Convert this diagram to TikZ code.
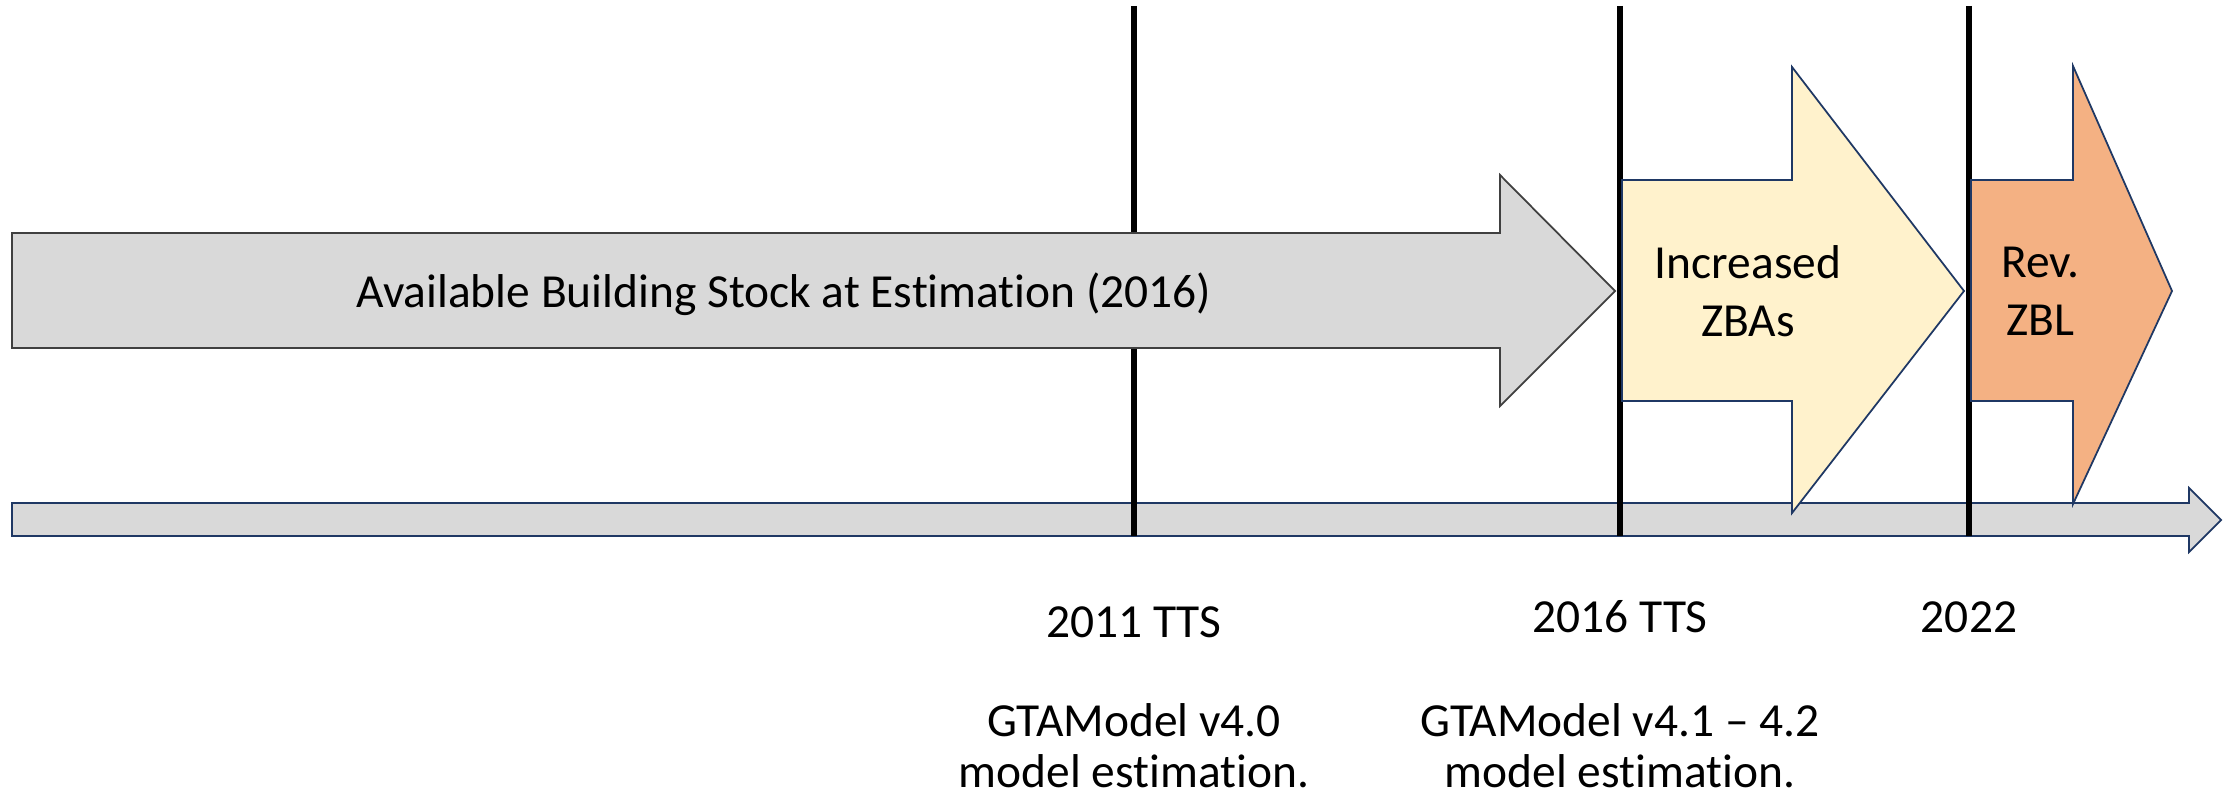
\documentclass[tikz,border=0pt]{standalone}
\usepackage{fontspec}
\setmainfont[Ligatures={TeX,NoCommon}]{Carlito}
\usetikzlibrary{calc}
\definecolor{stockgray}{HTML}{D9D9D9}
\definecolor{edgegray}{HTML}{404040}
\definecolor{navy}{HTML}{1F3864}
\definecolor{zbayellow}{HTML}{FFF2CC}
\definecolor{zblorange}{HTML}{F4B183}
\tikzset{
  blockarrow/.style={draw=navy,line width=0.5pt,line join=miter},
  yearline/.style={line width=1.6pt},
  label/.style={inner sep=0pt,align=center,font=\fontsize{13.5}{16.5}\selectfont},
  notes/.style={label,font=\fontsize{13.5}{14.6}\selectfont}
}

\begin{document}
\begin{tikzpicture}[x=0.1mm,y=-0.1mm]
    \useasboundingbox (0,0) rectangle (2236,799);
    % time axis
    \draw[blockarrow,fill=stockgray] (12,503) -- (2189,503) -- (2189,488) -- (2221,520)
      -- (2189,552) -- (2189,536) -- (12,536) -- cycle;
    % survey years
    \foreach \x in {1134,1620,1969}
      \draw[yearline] (\x,6) -- (\x,536);
    % periods
    \draw[blockarrow,draw=edgegray,fill=stockgray] (12,233) -- (1500,233) -- (1500,175)
      -- (1615,291) -- (1500,406) -- (1500,348) -- (12,348) -- cycle;
    \draw[blockarrow,fill=zbayellow] (1622,180) -- (1792,180) -- (1792,67)
      -- (1964,291) -- (1792,513) -- (1792,401) -- (1622,401) -- cycle;
    \draw[blockarrow,fill=zblorange] (1971,180) -- (2073,180) -- (2073,66)
      -- (2172,291) -- (2073,504) -- (2073,401) -- (1971,401) -- cycle;
    \node[label,anchor=base] (stock) at (784,307) {Available Building Stock at Estimation (2016)};
    \node[label] (zba) at (1748,291) {Increased\\ZBAs};
    \node[label] (zbl) at (2040,291) {Rev.\\ZBL};
    % labels under the axis
    \node[label,anchor=base] (tts11) at (1134,637) {2011 TTS};
    \node[label,anchor=base] (tts16) at (1620,632) {2016 TTS};
    \node[label,anchor=base] (y22) at (1969,632) {2022};
    \node[notes,anchor=north] (gta40) at (1134,703) {GTAModel v4.0\\model estimation.};
    \node[notes,anchor=north] (gta41) at (1620,703) {GTAModel v4.1 -- 4.2\\model estimation.};
\end{tikzpicture}
\end{document}
